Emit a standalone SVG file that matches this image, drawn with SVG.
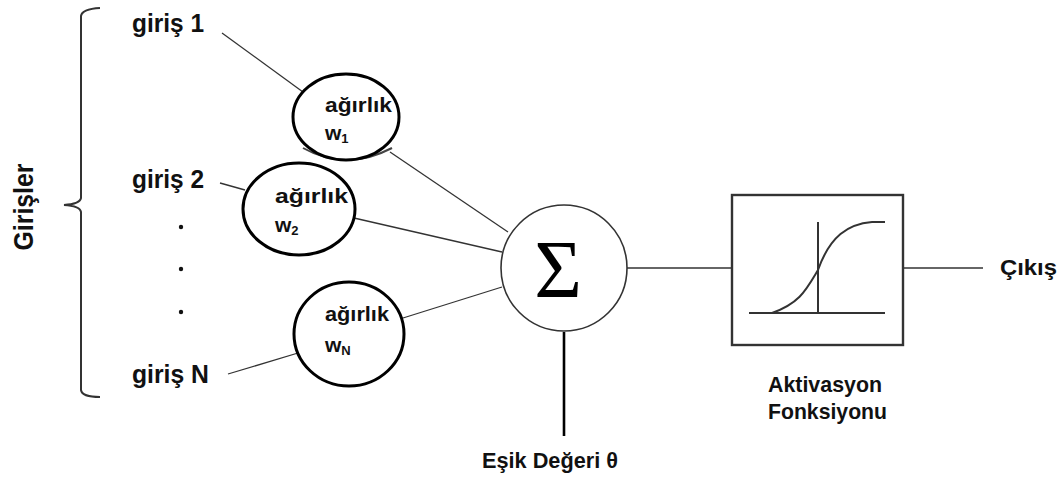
<svg xmlns="http://www.w3.org/2000/svg" width="1061" height="479" viewBox="0 0 1061 479">
  <style>
    .lbl { font-family: "Liberation Sans", Arial, sans-serif; font-weight: bold; fill: #111; }
    .in { font-size: 26px; }
    .wt { font-size: 21px; }
    .sub { font-size: 13px; }
    .cap { font-size: 22px; }
    .wire { stroke: #333; stroke-width: 1.3; fill: none; }
    .wcirc { fill: #fff; stroke: #000; stroke-width: 3; }
  </style>

  <!-- bracket grouping the inputs -->
  <g id="inputs-bracket">
    <path d="M100,8 Q82,9 81,16 L81,198 Q80,204 64,205 Q80,206 81,212 L81,390 Q82,397 100,397" fill="none" stroke="#333" stroke-width="2"/>
    <text class="lbl" x="33" y="207" transform="rotate(-90 33 207)" text-anchor="middle" style="font-size:27px" textLength="87" lengthAdjust="spacingAndGlyphs">Girişler</text>
  </g>

  <!-- connectors -->
  <g id="connectors">
    <line class="wire" x1="222" y1="33" x2="303" y2="92"/>
    <line class="wire" x1="220" y1="183" x2="245" y2="190"/>
    <line class="wire" x1="228" y1="374" x2="298" y2="353"/>
    <line class="wire" x1="390" y1="152" x2="508" y2="232"/>
    <line class="wire" x1="354" y1="218" x2="502" y2="252"/>
    <line class="wire" x1="403" y1="318" x2="502" y2="287"/>
    <line class="wire" x1="627" y1="268" x2="732" y2="268"/>
    <line class="wire" x1="903" y1="268" x2="983" y2="268" stroke-width="2"/>
    <line x1="564" y1="332" x2="564" y2="436" stroke="#000" stroke-width="2.6"/>
  </g>

  <!-- input labels -->
  <g id="input-1"><text class="lbl in" x="132" y="32" textLength="72" lengthAdjust="spacingAndGlyphs">giriş 1</text></g>
  <g id="input-2"><text class="lbl in" x="132" y="188" textLength="72" lengthAdjust="spacingAndGlyphs">giriş 2</text></g>
  <g id="input-n"><text class="lbl in" x="132" y="383" textLength="77" lengthAdjust="spacingAndGlyphs">giriş N</text></g>

  <!-- ellipsis dots between inputs -->
  <g id="dots" fill="#111">
    <circle cx="181" cy="227" r="2.2"/>
    <circle cx="181" cy="269" r="2.2"/>
    <circle cx="181" cy="312" r="2.2"/>
  </g>

  <!-- weights -->
  <g id="weight-1">
    <path d="M303,148 Q346,172 392,148" fill="none" stroke="#444" stroke-width="2"/>
    <ellipse class="wcirc" cx="346" cy="117" rx="53" ry="43"/>
    <text class="lbl wt" x="325" y="112" textLength="67" lengthAdjust="spacingAndGlyphs">ağırlık</text>
    <text class="lbl wt" x="325" y="140">w<tspan class="sub" dy="3">1</tspan></text>
  </g>
  <g id="weight-2">
    <ellipse class="wcirc" cx="299" cy="209" rx="56" ry="46"/>
    <text class="lbl wt" x="275" y="203" textLength="73" lengthAdjust="spacingAndGlyphs">ağırlık</text>
    <text class="lbl wt" x="275" y="232">w<tspan class="sub" dy="3">2</tspan></text>
  </g>
  <g id="weight-n">
    <ellipse class="wcirc" cx="349" cy="334" rx="55" ry="52"/>
    <text class="lbl wt" x="325" y="321" textLength="64" lengthAdjust="spacingAndGlyphs">ağırlık</text>
    <text class="lbl wt" x="325" y="352">w<tspan class="sub" dy="3">N</tspan></text>
  </g>

  <!-- summation node -->
  <g id="sum">
    <circle cx="564" cy="268" r="63" fill="#fff" stroke="#333" stroke-width="1.6"/>
    <text x="558" y="297" text-anchor="middle" font-family="Liberation Serif, 'Times New Roman', serif" font-size="82" fill="#000">Σ</text>
  </g>

  <!-- activation function -->
  <g id="activation">
    <rect x="732" y="195" width="171" height="150" fill="#fff" stroke="#333" stroke-width="2.4"/>
    <line x1="749" y1="313" x2="885" y2="313" stroke="#333" stroke-width="2"/>
    <line x1="818" y1="222" x2="818" y2="313" stroke="#333" stroke-width="2"/>
    <path d="M772,313 C800,303 806,290 818,270 C830,236 848,224 872,222 L885,222" fill="none" stroke="#333" stroke-width="2"/>
    <text class="lbl cap" x="768" y="392" textLength="114" lengthAdjust="spacingAndGlyphs">Aktivasyon</text>
    <text class="lbl cap" x="768" y="419" textLength="119" lengthAdjust="spacingAndGlyphs">Fonksiyonu</text>
  </g>

  <!-- threshold label -->
  <g id="threshold"><text class="lbl cap" x="482" y="468" textLength="136" lengthAdjust="spacingAndGlyphs">Eşik Değeri θ</text></g>

  <!-- output label -->
  <g id="output"><text class="lbl cap" x="1000" y="275" textLength="57" lengthAdjust="spacingAndGlyphs">Çıkış</text></g>
</svg>
